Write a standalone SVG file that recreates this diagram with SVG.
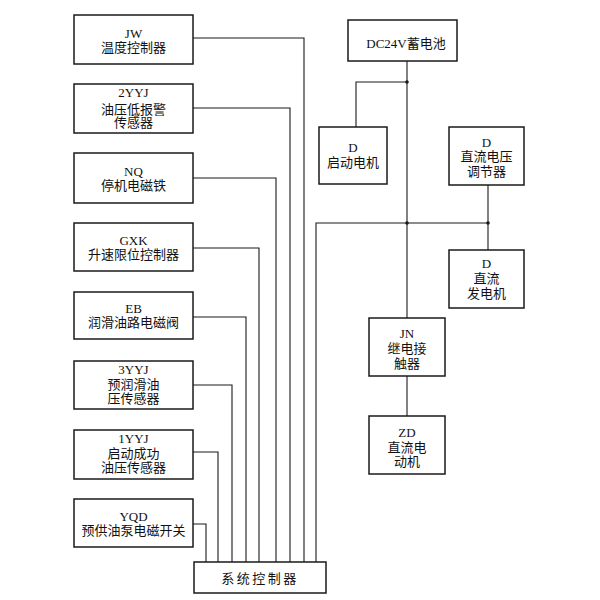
<svg xmlns="http://www.w3.org/2000/svg" width="600" height="600" viewBox="0 0 600 600">
<style>
.box{fill:#fff;stroke:#1a1a1a;stroke-width:1.5}
.ln{fill:none;stroke:#1a1a1a;stroke-width:1.1}
text{font-family:"Liberation Serif","Noto Sans CJK SC",serif;font-size:13px;fill:#111;text-anchor:middle}
.dot{fill:#1a1a1a}
</style>
<rect width="600" height="600" fill="#fff"/>
<g id="connectors">
<polyline class="ln" points="193,38 304,38 304,562"/>
<polyline class="ln" points="193,108 290,108 290,562"/>
<polyline class="ln" points="193,178 276,178 276,562"/>
<polyline class="ln" points="193,248 259,248 259,562"/>
<polyline class="ln" points="193,317 246,317 246,562"/>
<polyline class="ln" points="193,385 232,385 232,562"/>
<polyline class="ln" points="193,452 218,452 218,562"/>
<polyline class="ln" points="193,524 206,524 206,562"/>
<polyline class="ln" points="316,562 316,223 488,223"/>
<line class="ln" x1="407" y1="61" x2="407" y2="318"/>
<polyline class="ln" points="407,82 356,82 356,127"/>
<line class="ln" x1="488" y1="185" x2="488" y2="250"/>
<line class="ln" x1="407" y1="376" x2="407" y2="416"/>
<circle class="dot" cx="407" cy="82" r="1.8"/>
<circle class="dot" cx="407" cy="223" r="1.8"/>
<circle class="dot" cx="488" cy="223" r="1.8"/>
</g>
<g id="jw"><rect class="box" x="74" y="15" width="119" height="49"/><text x="133.5" y="37.5">JW</text><text x="133.5" y="52">温度控制器</text></g>
<g id="yyj2"><rect class="box" x="74" y="84" width="119" height="49"/><text x="133.5" y="96.5">2YYJ</text><text x="133.5" y="113.5">油压低报警</text><text x="133.5" y="127">传感器</text></g>
<g id="nq"><rect class="box" x="74" y="153" width="119" height="50"/><text x="133.5" y="175.5">NQ</text><text x="133.5" y="190">停机电磁铁</text></g>
<g id="gxk"><rect class="box" x="74" y="223" width="119" height="48"/><text x="133.5" y="244.5">GXK</text><text x="133.5" y="259">升速限位控制器</text></g>
<g id="eb"><rect class="box" x="74" y="292" width="119" height="47"/><text x="133.5" y="312.5">EB</text><text x="133.5" y="327">润滑油路电磁阀</text></g>
<g id="yyj3"><rect class="box" x="74" y="361" width="119" height="48"/><text x="133.5" y="373.5">3YYJ</text><text x="133.5" y="389">预润滑油</text><text x="133.5" y="403">压传感器</text></g>
<g id="yyj1"><rect class="box" x="74" y="430" width="119" height="49"/><text x="133.5" y="442.5">1YYJ</text><text x="133.5" y="458">启动成功</text><text x="133.5" y="472">油压传感器</text></g>
<g id="yqd"><rect class="box" x="74" y="499" width="119" height="48"/><text x="133.5" y="520.5">YQD</text><text x="133.5" y="535">预供油泵电磁开关</text></g>
<g id="ctrl"><rect class="box" x="194" y="562" width="132" height="31"/><text x="260" y="582.5" letter-spacing="2.5">系统控制器</text></g>
<g id="battery"><rect class="box" x="348" y="20" width="109" height="41"/><text x="406" y="47.5">DC24V蓄电池</text></g>
<g id="starter"><rect class="box" x="319" y="127" width="68" height="57"/><text x="353" y="151.5">D</text><text x="353" y="167">启动电机</text></g>
<g id="regulator"><rect class="box" x="449" y="127" width="75" height="58"/><text x="486.5" y="146.5">D</text><text x="486.5" y="161">直流电压</text><text x="486.5" y="175.5">调节器</text></g>
<g id="generator"><rect class="box" x="449" y="250" width="75" height="58"/><text x="486.5" y="267.5">D</text><text x="486.5" y="282.5">直流</text><text x="486.5" y="297.5">发电机</text></g>
<g id="jn"><rect class="box" x="369" y="318" width="76" height="58"/><text x="407" y="337.5">JN</text><text x="407" y="352.5">继电接</text><text x="407" y="367.5">触器</text></g>
<g id="zd"><rect class="box" x="369" y="416" width="76" height="58"/><text x="407" y="436.5">ZD</text><text x="407" y="451.5">直流电</text><text x="407" y="465.5">动机</text></g>
</svg>
